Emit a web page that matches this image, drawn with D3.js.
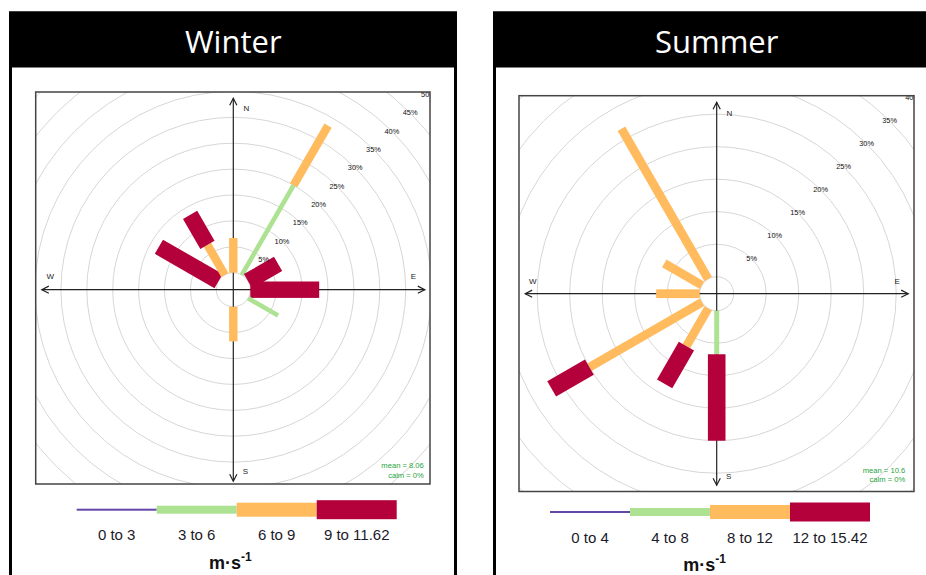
<!DOCTYPE html>
<html>
<head>
<meta charset="utf-8">
<script src="https://cdn.jsdelivr.net/npm/d3@7/dist/d3.min.js"></script>
<style>
  body { margin: 0; background: #ffffff; }
  svg { display: block; }
</style>
</head>
<body>
<svg id="chart" width="926" height="575"></svg>
<script>
// ---- data -------------------------------------------------------------
// Wind directions (degrees from north) of the 12 sectors
const directions = [0, 30, 60, 90, 120, 150, 180, 210, 240, 270, 300, 330];

// Winter: frequency (%) per sector for each speed class
const winterLabels = ["0 to 3", "3 to 6", "6 to 9", "9 to 11.62"];
const winter0to3   = [0, 0,    0,   0,    0,   0, 0,   0, 0, 0, 0,    0];
const winter3to6   = [0, 20.0, 0,   0,    6.7, 0, 0,   0, 0, 0, 0,    0];
const winter6to9   = [6.7, 13.3, 0, 0,    0,   0, 6.7, 0, 0, 0, 0,    6.7];
const winter9to12  = [0, 0,    6.7, 13.3, 0,   0, 0,   0, 0, 0, 13.3, 6.7];
const winterTicks  = [5, 10, 15, 20, 25, 30, 35, 40, 45, 50];
const winterMean   = "8.06";
const winterCalm   = "0%";

// Summer: frequency (%) per sector for each speed class
const summerLabels = ["0 to 4", "4 to 8", "8 to 12", "12 to 15.42"];
const summer0to4   = [0, 0, 0, 0, 0, 0, 0,    0,   0,    0,   0,   0];
const summer4to8   = [0, 0, 0, 0, 0, 0, 6.7,  0,   0,    0,   0,   0];
const summer8to12  = [0, 0, 0, 0, 0, 0, 0,    6.7, 20.0, 6.7, 6.7, 26.7];
const summer12to16 = [0, 0, 0, 0, 0, 0, 13.3, 6.7, 6.7,  0,   0,   0];
const summerTicks  = [5, 10, 15, 20, 25, 30, 35, 40];
const summerMean   = "10.6";
const summerCalm   = "0%";

const speedColours = ["#6547a8", "#ade293", "#ffbb5e", "#b4003b"];

// ---- drawing ------------------------------------------------------------
const svg = d3.select("#chart");

function drawPanel(p) {
  // outer frame with black title band
  svg.append("rect")
    .attr("x", p.frame[0]).attr("y", p.frame[1])
    .attr("width", p.frame[2]).attr("height", p.frame[3])
    .attr("fill", "#fff").attr("stroke", "#000").attr("stroke-width", 3);
  svg.append("rect")
    .attr("x", p.frame[0] - 1.5).attr("y", p.frame[1] - 1.5)
    .attr("width", p.frame[2] + 3).attr("height", p.header)
    .attr("fill", "#000");
  svg.append("text")
    .attr("x", p.cx).attr("y", p.titleY)
    .attr("text-anchor", "middle")
    .attr("font-family", "'Open Sans', sans-serif")
    .attr("font-size", 31)
    .attr("fill", "#fff")
    .text(p.title);
}

function drawRose(p) {
  const [bx0, by0, bx1, by1] = p.box;
  const maxTick = d3.max(p.ticks);
  const r = d3.scaleLinear().domain([0, maxTick]).range([p.r0, p.r0 + maxTick * p.ppp]);

  const clipId = "clip-" + p.id;
  svg.append("clipPath").attr("id", clipId)
    .append("rect").attr("x", bx0).attr("y", by0)
    .attr("width", bx1 - bx0).attr("height", by1 - by0);

  const g = svg.append("g").attr("clip-path", `url(#${clipId})`);
  const c = g.append("g").attr("transform", `translate(${p.cx},${p.cy})`);

  // grid circles, including the inner calm circle
  const rings = [0].concat(p.ticks, [maxTick + 5, maxTick + 10]);
  c.selectAll("circle.ring").data(rings).join("circle")
    .attr("class", "ring")
    .attr("r", d => r(d))
    .attr("fill", "none")
    .attr("stroke", "#d6d6d6")
    .attr("stroke-width", 1);

  // compass axes with open arrow heads
  const L = p.axisLen;
  const axisCol = "#222";
  c.append("line").attr("x1", -L).attr("x2", L).attr("y1", 0).attr("y2", 0)
    .attr("stroke", axisCol).attr("stroke-width", 1.2);
  c.append("line").attr("x1", 0).attr("x2", 0).attr("y1", -L).attr("y2", L)
    .attr("stroke", axisCol).attr("stroke-width", 1.2);
  const ah = 7, aw = 3.6;
  [[0, -L, 0], [L, 0, 90], [0, L, 180], [-L, 0, 270]].forEach(([x, y, a]) => {
    c.append("path")
      .attr("transform", `translate(${x},${y}) rotate(${a})`)
      .attr("d", `M${-aw},${ah} L0,0 L${aw},${ah}`)
      .attr("fill", "none").attr("stroke", axisCol).attr("stroke-width", 1.2);
  });

  // stacked paddles, one per sector
  directions.forEach((dir, i) => {
    let cum = 0;
    const sg = c.append("g").attr("transform", `rotate(${dir})`);
    p.series.forEach((vals, k) => {
      const v = vals[i];
      if (v > 0) {
        const w = p.widths[k];
        sg.append("rect")
          .attr("x", -w / 2)
          .attr("y", -r(cum + v))
          .attr("width", w)
          .attr("height", r(cum + v) - r(cum))
          .attr("fill", speedColours[k]);
      }
      cum += v;
    });
  });

  // percentage labels along the 45 degree diagonal
  const s45 = Math.SQRT1_2;
  c.selectAll("text.pct").data(p.ticks).join("text")
    .attr("class", "pct")
    .attr("x", d => r(d) * s45)
    .attr("y", d => -r(d) * s45)
    .attr("text-anchor", "middle")
    .attr("dominant-baseline", "central")
    .attr("font-family", "'Liberation Sans', Arial, sans-serif")
    .attr("font-size", 7.4)
    .attr("fill", "#111")
    .text(d => d + "%");

  // compass letters
  const dl = p.dirLabels;
  [["N", dl.n[0], dl.n[1]], ["E", dl.e[0], dl.e[1]], ["S", dl.s[0], dl.s[1]], ["W", dl.w[0], dl.w[1]]]
    .forEach(([t, x, y]) => {
      c.append("text").attr("x", x).attr("y", y)
        .attr("text-anchor", "middle").attr("dominant-baseline", "central")
        .attr("font-family", "'Liberation Sans', Arial, sans-serif")
        .attr("font-size", 8).attr("fill", "#222").text(t);
    });

  // mean / calm summary
  [["mean = " + p.mean, p.statY[0]], ["calm = " + p.calm, p.statY[1]]].forEach(([t, y]) => {
    c.append("text").attr("x", p.statX).attr("y", y)
      .attr("text-anchor", "end").attr("dominant-baseline", "central")
      .attr("font-family", "'Liberation Sans', Arial, sans-serif")
      .attr("font-size", 7.6).attr("fill", "#1fa33a").text(t);
  });

  // plot box
  svg.append("rect")
    .attr("x", bx0).attr("y", by0)
    .attr("width", bx1 - bx0).attr("height", by1 - by0)
    .attr("fill", "none").attr("stroke", "#444").attr("stroke-width", 1.5);
}

function drawLegend(p) {
  const x = d3.scaleBand().domain(p.labels).range([p.legX, p.legX + 320]);
  const heights = [2, 8, 14, 19];
  const lg = svg.append("g");
  p.labels.forEach((lab, k) => {
    lg.append("rect")
      .attr("x", x(lab)).attr("y", p.legY - heights[k] / 2)
      .attr("width", x.bandwidth()).attr("height", heights[k])
      .attr("fill", speedColours[k]);
    lg.append("text")
      .attr("x", x(lab) + x.bandwidth() / 2).attr("y", p.legY + 25)
      .attr("text-anchor", "middle").attr("dominant-baseline", "central")
      .attr("font-family", "'Liberation Sans', Arial, sans-serif")
      .attr("font-size", 15).attr("fill", "#1b1b2a").text(lab);
  });
  const u = lg.append("text")
    .attr("x", p.unitX).attr("y", p.legY + 59)
    .attr("font-family", "'Liberation Sans', Arial, sans-serif")
    .attr("font-weight", "bold").attr("font-size", 18).attr("fill", "#111");
  u.append("tspan").text("m·s");
  u.append("tspan").attr("font-size", 12).attr("dy", -8).text("-1");
}

const winter = {
  id: "winter", title: "Winter",
  frame: [10.5, 13, 445, 600], header: 56, titleY: 53,
  cx: 233.3, cy: 289.7, box: [35.7, 92, 430, 484],
  r0: 17, ppp: 5.18, axisLen: 191.5,
  ticks: winterTicks,
  series: [winter0to3, winter3to6, winter6to9, winter9to12],
  widths: [2, 4.6, 8.4, 16.4],
  dirLabels: { n: [13, -181], e: [180, -13], s: [12, 182], w: [-183, -13] },
  statX: 190.5, statY: [176, 185.5],
  mean: winterMean, calm: winterCalm,
  labels: winterLabels, legX: 76.7, legY: 509.7, unitX: 209
};

const summer = {
  id: "summer", title: "Summer",
  frame: [494.5, 13, 445, 600], header: 56, titleY: 53,
  cx: 716.7, cy: 293.7, box: [519, 95.7, 914, 491.5],
  r0: 17, ppp: 6.5, axisLen: 191.5,
  ticks: summerTicks,
  series: [summer0to4, summer4to8, summer8to12, summer12to16],
  widths: [2, 5, 8.8, 17.6],
  dirLabels: { n: [12.6, -180.5], e: [180.6, -12], s: [12, 183], w: [-184, -12] },
  statX: 188.5, statY: [177.3, 186.3],
  mean: summerMean, calm: summerCalm,
  labels: summerLabels, legX: 550, legY: 512, unitX: 683.3
};

[winter, summer].forEach(p => { drawPanel(p); drawRose(p); drawLegend(p); });
</script>
</body>
</html>
